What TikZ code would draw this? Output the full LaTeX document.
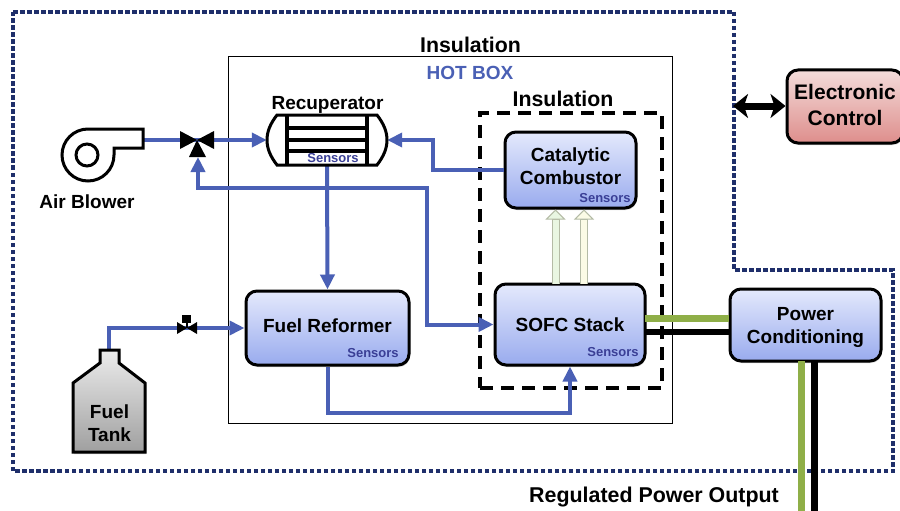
\documentclass[tikz,border=0pt]{standalone}
\usepackage{fontspec}
\setmainfont{Liberation Sans}
\usetikzlibrary{arrows.meta,shadows}
\definecolor{flowblue}{HTML}{4A60B5}
\definecolor{sensorblue}{HTML}{3A3F96}
\definecolor{navyline}{HTML}{1F2F6B}
\definecolor{boxtop}{HTML}{E4E9FC}
\definecolor{boxbottom}{HTML}{99ABEE}
\definecolor{powergreen}{HTML}{8FAF48}
\definecolor{heatedge}{HTML}{B4BBA6}
\definecolor{heatgreen}{HTML}{E9F6E2}
\definecolor{heatyellow}{HTML}{FBFBE6}
\definecolor{controltop}{HTML}{F3DCDA}
\definecolor{controlbottom}{HTML}{DE8E8C}
\tikzset{
  flow/.style={draw=flowblue,line width=4pt},
  flowtip/.style={flow,-{Triangle[length=15pt,width=14pt]}},
  unitbox/.style={draw=black,line width=3pt,rounded corners=11pt,top color=boxtop,bottom color=boxbottom,
    drop shadow={shadow xshift=1pt,shadow yshift=-2pt,opacity=.35},align=center,font=\fontsize{19}{23}\selectfont\bfseries,inner sep=0pt},
  caption/.style={font=\fontsize{19}{23}\selectfont\bfseries,align=center,inner sep=0pt},
  sensortext/.style={font=\fontsize{13}{13}\selectfont\bfseries,text=sensorblue,inner sep=0pt},
  heatshaft/.style={draw=heatedge,line width=8pt,-{Triangle[length=10pt,width=20pt,line width=1pt,fill=#1]}},
  heatcore/.style={draw=#1,line width=6pt,shorten >=10pt}
}
\begin{document}
\begin{tikzpicture}[x=1pt,y=-1pt]
  \useasboundingbox (0,0) rectangle (900,511);
  \fill[white] (0,0) rectangle (900,511);
  \draw[navyline,line width=3.5pt,dash pattern=on 4.5pt off 2.5pt] (13,12)--(734,12)--(734,270)--(893,270)--(893,471)--(13,471)--cycle;
  \node[draw=black,line width=1pt,minimum width=444pt,minimum height=366pt] (hotbox) at (450,240) {};
  \node[draw=black,line width=4pt,dash pattern=on 13pt off 8pt,minimum width=182pt,minimum height=275pt] (insulbox) at (571,250.5) {};

  \node[caption] (insulouter) at (470.5,45) {\fontsize{21.3}{23}\selectfont Insulation};
  \node[caption,text=flowblue] (hotlabel) at (470,73) {HOT BOX};
  \node[caption] (insulinner) at (563,99) {\fontsize{21.3}{23}\selectfont Insulation};
  \node[caption] (blowerlabel) at (87,202) {Air Blower};
  \node[caption,font=\fontsize{19}{23}\selectfont\bfseries] (recuplabel) at (327.5,105) {Recuperator};
  \node[caption] (outputlabel) at (654,497) {\fontsize{21.4}{23}\selectfont Regulated Power Output};

  \node[unitbox,text depth=8pt,minimum width=131pt,minimum height=76pt] (catalytic) at (570.5,170) {Catalytic\\Combustor};
  \node[unitbox,minimum width=150pt,minimum height=81pt] (sofc) at (570,324.5) {SOFC Stack};
  \node[unitbox,text depth=4pt,minimum width=163pt,minimum height=74pt] (reformer) at (327.5,328) {Fuel Reformer};
  \node[unitbox,text height=41pt,minimum width=151pt,minimum height=72pt] (power) at (805.5,325) {Power\\Conditioning};
  \node[unitbox,text depth=4pt,font=\fontsize{21}{26}\selectfont\bfseries,top color=controltop,bottom color=controlbottom,minimum width=116pt,minimum height=73pt] (control) at (845,106.5) {Electronic\\Control};
  \node[minimum width=120pt,minimum height=50pt,inner sep=0pt] (recup) at (327,140) {};

  \coordinate (blowerout) at (143,140);
  \coordinate (valvemix) at (197,140);
  \coordinate (tanktop) at (109,350);
  \coordinate (recupin) at (433,140);
  \coordinate (returnleft) at (198,157);
  \coordinate (returnright) at (427,188);
  \coordinate (heatA) at (555.5,284);
  \coordinate (heatB) at (584,284);
  \coordinate (greenA) at (645,318);
  \coordinate (blackA) at (645,332);
  \coordinate (greenB) at (801,361);
  \coordinate (blackB) at (814,361);
  \coordinate (greenC) at (801,511);
  \coordinate (blackC) at (814,511);
  \coordinate (linkleft) at (733,106);

  \draw[flow] (blowerout)--(valvemix);
  \draw[flowtip] (valvemix)--(recup.west);
  \draw[flowtip] (catalytic.west)-|(recupin)--(recup.east);
  \draw[flowtip] (recup.south)--(reformer.north);
  \draw[flow,{Triangle[length=15pt,width=14pt]}-{Triangle[length=15pt,width=14pt]}] (returnleft)|-(returnright)|-(sofc.west);
  \draw[flowtip] (tanktop)|-(reformer.west);
  \draw[flowtip] (reformer.south)--++(0,46)-|(sofc.south);

  \draw[powergreen,line width=7pt] (greenA)--(greenA-|power.west);
  \draw[black,line width=6pt] (blackA)--(blackA-|power.west);
  \draw[powergreen,line width=7pt] (greenB)--(greenC);
  \draw[black,line width=7pt] (blackB)--(blackC);
  \draw[black,line width=7pt,{Stealth[length=15pt,width=24pt,inset=4pt]}-{Stealth[length=15pt,width=24pt,inset=4pt]}] (linkleft)--(linkleft-|control.west);

  \draw[heatshaft=heatgreen] (heatA)--(heatA|-catalytic.south);
  \draw[heatcore=heatgreen] (heatA)--(heatA|-catalytic.south);
  \draw[heatshaft=heatyellow] (heatB)--(heatB|-catalytic.south);
  \draw[heatcore=heatyellow] (heatB)--(heatB|-catalytic.south);

  \draw[line width=3pt,fill=white] (143,129)--(88,129) arc[radius=26,start angle=-90,end angle=-360]--(114,148)--(143,148)--cycle;
  \draw[line width=3pt] (87,155) circle[radius=11];

  \fill[black] (197,140)--(180,131)--(180,149)--cycle;
  \fill[black] (197,140)--(214,131)--(214,149)--cycle;
  \fill[black] (197,140)--(189,157)--(206,157)--cycle;

  \fill[black] (187,328)--(177,322)--(177,334)--cycle;
  \fill[black] (187,328)--(197,322)--(197,334)--cycle;
  \draw[line width=1.5pt] (187,328)--(187,320);
  \fill[black] (182,315) rectangle (191,323);

  \draw[line width=3pt] (287,115)--(367,115)
    (287,165)--(367,165)
    (287,115)--(277,115) .. controls (270,124) and (267,132) .. (267,140) .. controls (267,148) and (270,156) .. (277,165)--(287,165)
    (367,115)--(377,115) .. controls (384,124) and (387,132) .. (387,140) .. controls (387,148) and (384,156) .. (377,165)--(367,165);
  \draw[line width=4pt] (287,115)--(287,165) (367,115)--(367,165);
  \draw[line width=3.5pt] (287,128)--(367,128) (287,140)--(367,140) (287,151)--(367,151);

  \draw[line width=3pt,top color=gray!15,bottom color=gray!75,drop shadow={shadow xshift=1pt,shadow yshift=-2pt,opacity=.35}]
    (100,350)--(119,350)--(119,363)--(145,383)--(145,452)--(73,452)--(73,383)--(100,363)--cycle;
  \node[caption] (tanklabel) at (109.5,423) {Fuel\\Tank};

  \node[sensortext] (recupsensors) at (333,158) {Sensors};
  \node[sensortext] (catalyticsensors) at (605,198) {Sensors};
  \node[sensortext] (sofcsensors) at (613,352) {Sensors};
  \node[sensortext] (reformersensors) at (373,353) {Sensors};
\end{tikzpicture}
\end{document}
